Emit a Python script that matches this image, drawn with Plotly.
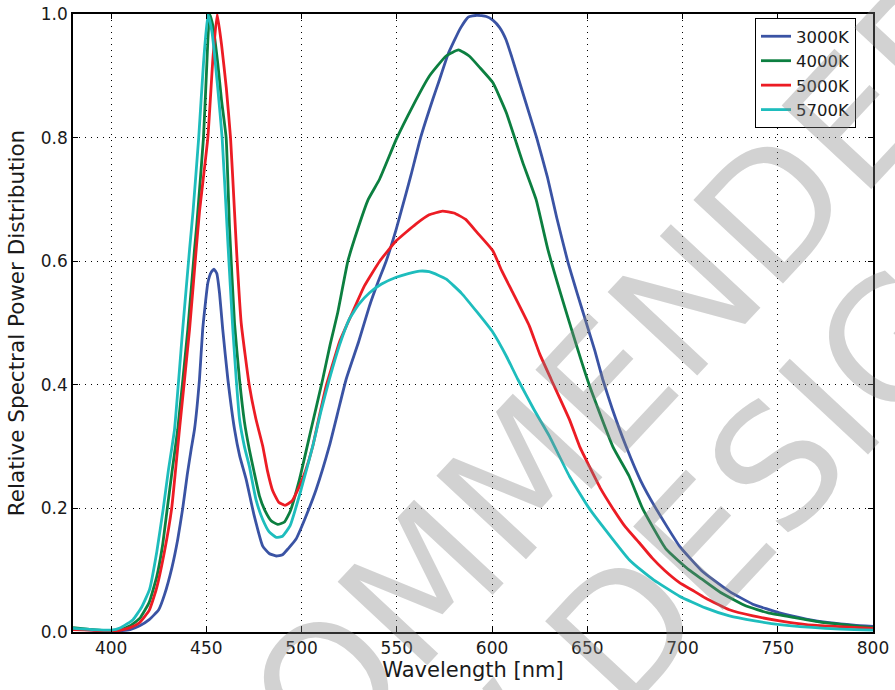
import plotly.graph_objects as go

# ---------------- data ----------------
wl_3000 = [380, 390, 400, 405, 410, 415, 420, 425, 428, 432, 435, 437.6, 440, 442, 443.8, 446.4, 448.1,
           450.8, 452.5, 454, 455.5, 456.9, 458.6, 461.3, 464.8, 467.5, 470.9, 475, 479.6, 483, 486.7,
           490, 493, 497, 502, 507.7, 514.6, 519, 523.4, 530, 535.7, 540, 544.4, 549.7, 554.9, 557.5,
           562.5, 568.9, 572, 576.9, 583.2, 587.5, 592, 597, 600.4, 604, 607.4, 610.3, 616.1, 623.4,
           629, 634, 639.7, 644.5, 649.4, 654, 658.1, 663, 670.4, 678, 686, 698.4, 709.8, 715.9, 725,
           736.9, 750.9, 765, 777, 790, 800]
sp_3000 = [0.005, 0.003, 0.001, 0.002, 0.004, 0.010, 0.020, 0.036, 0.060, 0.105, 0.150, 0.200, 0.255, 0.295,
           0.328, 0.409, 0.490, 0.565, 0.582, 0.587, 0.580, 0.549, 0.490, 0.409, 0.328, 0.285, 0.247, 0.190,
           0.139, 0.127, 0.123, 0.125, 0.135, 0.150, 0.185, 0.231, 0.301, 0.355, 0.409, 0.470, 0.528, 0.565,
           0.600, 0.652, 0.710, 0.740, 0.800, 0.862, 0.890, 0.935, 0.976, 0.995, 0.998, 0.996, 0.990, 0.978,
           0.958, 0.931, 0.873, 0.800, 0.737, 0.670, 0.600, 0.550, 0.501, 0.455, 0.409, 0.362, 0.300, 0.245,
           0.200, 0.139, 0.100, 0.085, 0.065, 0.045, 0.031, 0.021, 0.015, 0.011, 0.009]

wl_4000 = [380, 390, 400, 405, 410, 415, 420, 424, 427, 429.5, 432, 435, 440.3, 443.8, 445, 448.5, 450,
           451.7, 453.5, 456, 458, 460.4, 462.2, 464.8, 467.4, 470, 472.6, 475, 477.9, 481, 484, 487.5,
           491, 494, 498.9, 505, 511.1, 515, 519, 524.3, 529.5, 535, 541, 549.7, 558.4, 567.2, 575.9,
           582.4, 588, 593.4, 600.4, 607.4, 612.9, 616.1, 623.1, 629.4, 640.6, 651, 663.4, 672, 679,
           691.4, 703.6, 710, 720, 733.4, 745, 759.6, 775, 790, 800]
sp_4000 = [0.007, 0.004, 0.002, 0.004, 0.010, 0.022, 0.048, 0.090, 0.140, 0.200, 0.260, 0.328, 0.490, 0.619,
           0.660, 0.800, 0.900, 1.000, 0.980, 0.920, 0.860, 0.800, 0.652, 0.500, 0.409, 0.340, 0.295, 0.260,
           0.220, 0.195, 0.180, 0.174, 0.178, 0.195, 0.247, 0.328, 0.409, 0.465, 0.517, 0.600, 0.652, 0.700,
           0.733, 0.797, 0.851, 0.900, 0.932, 0.942, 0.932, 0.914, 0.889, 0.841, 0.790, 0.760, 0.700, 0.618,
           0.501, 0.400, 0.300, 0.252, 0.200, 0.134, 0.100, 0.086, 0.064, 0.042, 0.031, 0.023, 0.015, 0.010,
           0.007]

wl_5000 = [380, 390, 400, 405, 410, 414.9, 420, 423.7, 428, 431.8, 435.9, 441.2, 444.7, 446.4, 450.8,
           453.5, 455.7, 458, 460.5, 462.7, 464.8, 466, 468.3, 472.5, 476, 479.6, 482, 484.9, 488, 491.3,
           495, 498.9, 502, 505.9, 509, 512.9, 516, 520, 526.7, 533, 541, 549.7, 560, 567, 574, 580, 586,
           592, 600.4, 605, 610.9, 619.6, 625, 631, 640.6, 646, 651.1, 657, 663.4, 670, 677.4, 684, 690.5,
           698.4, 705, 712, 724.6, 737, 751, 765, 780, 800]
sp_5000 = [0.004, 0.003, 0.001, 0.003, 0.007, 0.015, 0.035, 0.069, 0.130, 0.200, 0.328, 0.490, 0.620, 0.680,
           0.800, 0.930, 1.000, 0.950, 0.880, 0.800, 0.680, 0.610, 0.500, 0.400, 0.345, 0.301, 0.262, 0.228,
           0.210, 0.205, 0.212, 0.236, 0.260, 0.301, 0.345, 0.398, 0.430, 0.470, 0.517, 0.560, 0.600, 0.633,
           0.660, 0.675, 0.681, 0.678, 0.668, 0.647, 0.617, 0.585, 0.549, 0.495, 0.450, 0.409, 0.344, 0.300,
           0.268, 0.232, 0.200, 0.170, 0.144, 0.120, 0.100, 0.080, 0.068, 0.055, 0.036, 0.026, 0.018, 0.012,
           0.009, 0.006]

wl_5700 = [380, 390, 400, 405, 411.5, 416, 420.2, 424, 427.4, 430, 433.3, 437.6, 441.2, 443, 446, 448.5,
           450.8, 453, 456, 458.3, 461.3, 463.9, 465.7, 467.4, 470, 472.6, 476, 479.6, 483, 486.7, 490,
           494, 499.8, 505.9, 510, 514.6, 520, 525, 530, 535.7, 542, 549.7, 556, 562, 567, 572, 576, 584,
           592.3, 600.4, 607.4, 613.5, 622, 630.1, 640.6, 651, 663.4, 672, 678.3, 685, 698.4, 712, 724.6,
           738, 751, 775, 800]
sp_5700 = [0.006, 0.004, 0.003, 0.007, 0.020, 0.040, 0.069, 0.130, 0.200, 0.260, 0.328, 0.490, 0.619, 0.680,
           0.800, 0.920, 1.000, 0.970, 0.880, 0.800, 0.630, 0.490, 0.409, 0.345, 0.300, 0.268, 0.215, 0.182,
           0.162, 0.153, 0.155, 0.172, 0.231, 0.301, 0.355, 0.409, 0.465, 0.506, 0.530, 0.549, 0.563, 0.574,
           0.580, 0.584, 0.583, 0.577, 0.571, 0.548, 0.517, 0.485, 0.447, 0.409, 0.360, 0.317, 0.252, 0.200,
           0.150, 0.117, 0.100, 0.084, 0.058, 0.039, 0.026, 0.018, 0.012, 0.006, 0.003]

series_names = ["3000K", "4000K", "5000K", "5700K"]
series_colors = ["#3a53a4", "#0c7f40", "#ec1c24", "#1ebdbd"]
x_ticks = [400, 450, 500, 550, 600, 650, 700, 750, 800]
y_ticks = [0.0, 0.2, 0.4, 0.6, 0.8, 1.0]
watermark_lines = ["NOT RECOMMENDED", "FOR NEW DESIGN"]

# ---------------- figure ----------------
FONT = "DejaVu Sans, Verdana, sans-serif"
fig = go.Figure()
for wl, sp, name, col in zip([wl_3000, wl_4000, wl_5000, wl_5700],
                             [sp_3000, sp_4000, sp_5000, sp_5700],
                             series_names, series_colors):
    fig.add_trace(go.Scatter(x=wl, y=sp, mode="lines", name=name, legendgroup=name,
                             line=dict(color=col, width=2.8, shape="spline", smoothing=0.4)))

axis_common = dict(showline=True, linecolor="black", linewidth=1.5, mirror="ticks",
                   ticks="inside", ticklen=5, tickcolor="black", tickwidth=1,
                   showgrid=True, gridcolor="black", gridwidth=1, griddash="1px,5px",
                   zeroline=False, automargin=False,
                   tickfont=dict(family=FONT, size=17, color="#1a1a1a"))

fig.update_xaxes(range=[380, 800], tickvals=x_ticks, ticktext=[str(v) for v in x_ticks],
                 title=dict(text="Wavelength [nm]", font=dict(family=FONT, size=21, color="#1a1a1a"),
                            standoff=3),
                 **axis_common)
fig.update_yaxes(range=[0, 1.0], tickvals=y_ticks, ticktext=["%.1f" % v for v in y_ticks],
                 title=dict(text="Relative Spectral Power Distribution",
                            font=dict(family=FONT, size=21.5, color="#1a1a1a"), standoff=10),
                 **axis_common)

fig.update_layout(
    width=895, height=690,
    margin=dict(l=73, r=22, t=14, b=57.5),
    paper_bgcolor="white", plot_bgcolor="white",
    legend=dict(x=0.8525, y=0.9935, xanchor="left", yanchor="top",
                bgcolor="white", bordercolor="black", borderwidth=1,
                font=dict(family=FONT, size=16.5, color="#1a1a1a"),
                tracegroupgap=0),
    showlegend=True,
)

# watermark (translucent gray overlay)
wm_pos = [(0.375, -0.009), (0.549, -0.193)]
for txt, (ax_, ay_) in zip(watermark_lines, wm_pos):
    fig.add_annotation(text=txt, xref="paper", yref="paper", x=ax_, y=ay_,
                       xanchor="center", yanchor="middle", showarrow=False, textangle=-47,
                       font=dict(family="DejaVu Sans", size=168, weight="normal",
                                 color="rgba(130,130,130,0.36)"))

fig.write_html("out.html", config={"displayModeBar": False},
               post_script="document.body.style.margin='0px';document.body.style.padding='0px';")
